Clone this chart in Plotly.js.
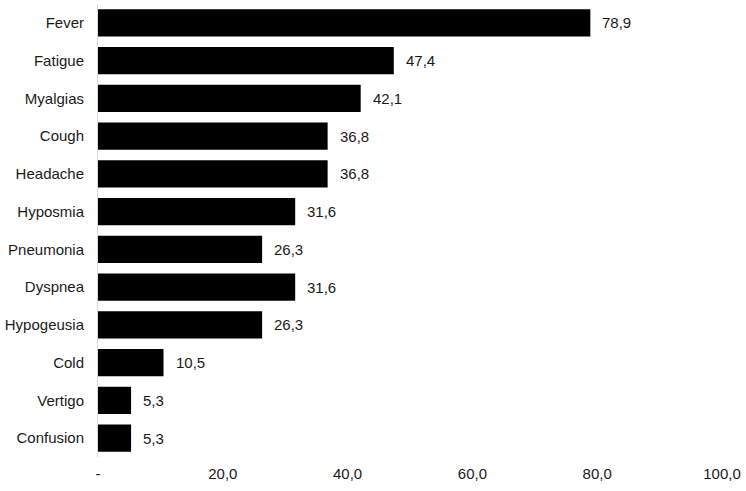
<!DOCTYPE html>
<html>
<head>
<meta charset="utf-8">
<script src="https://cdn.plot.ly/plotly-3.0.1.min.js"></script>
<style>html,body{margin:0;padding:0;background:#fff;}#chart{width:746px;height:491px;}</style>
</head>
<body>
<div id="chart"></div>
<script>
const categories = ["Fever","Fatigue","Myalgias","Cough","Headache","Hyposmia","Pneumonia","Dyspnea","Hypogeusia","Cold","Vertigo","Confusion"];
const values = [78.9,47.4,42.1,36.8,36.8,31.6,26.3,31.6,26.3,10.5,5.3,5.3];
const valueLabels = ["78,9","47,4","42,1","36,8","36,8","31,6","26,3","31,6","26,3","10,5","5,3","5,3"];
const tickValues = [0,20,40,60,80,100];
const tickLabels = ["-","20,0","40,0","60,0","80,0","100,0"];

const font = {family: "Liberation Sans, Arial, sans-serif", size: 15, color: "#1a1a1a"};

const trace = {
  type: "bar",
  orientation: "h",
  x: values,
  y: categories,
  marker: {color: "#000000", line: {width: 0}},
  hoverinfo: "none"
};

const annotations = values.map((v, i) => ({
  x: v, y: categories[i], xref: "x", yref: "y",
  text: valueLabels[i], showarrow: false,
  xanchor: "left", xshift: 10, font: font
}));

const layout = {
  width: 746, height: 491,
  margin: {l: 98, r: 24, t: 4, b: 34},
  paper_bgcolor: "#fff", plot_bgcolor: "#fff",
  showlegend: false,
  bargap: 0.28,
  font: font,
  xaxis: {
    range: [0, 100], tickvals: tickValues, ticktext: tickLabels,
    showgrid: false, zeroline: false, showline: false, ticks: "",
    ticklabelstandoff: 6,
    tickfont: font, fixedrange: true
  },
  yaxis: {
    autorange: "reversed", showgrid: false, zeroline: false,
    showline: true, linecolor: "#d9d9d9", linewidth: 1,
    ticks: "", ticklabelstandoff: 10, tickfont: font, fixedrange: true
  },
  annotations: annotations
};

Plotly.newPlot("chart", [trace], layout, {displayModeBar: false, staticPlot: true});
</script>
</body>
</html>
